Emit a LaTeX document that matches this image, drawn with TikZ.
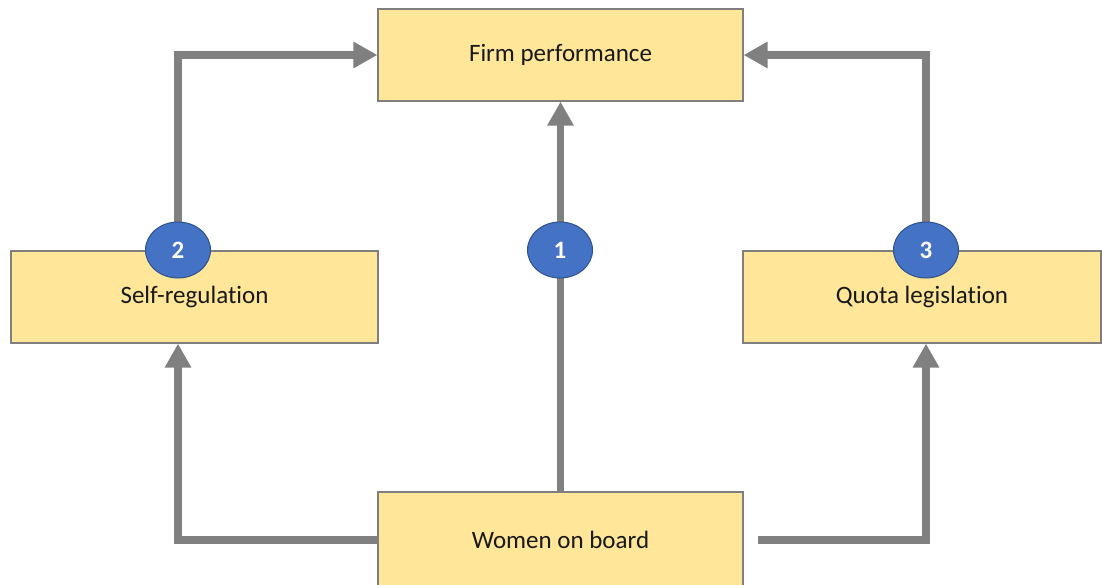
\documentclass[tikz,border=0pt]{standalone}
\usepackage{fontspec}
\setmainfont[Ligatures=NoCommon]{Carlito}
\usetikzlibrary{arrows.meta,shapes.geometric}
\pgfdeclarelayer{bg}
\pgfsetlayers{bg,main}
\definecolor{boxfill}{HTML}{FFE699}
\definecolor{boxline}{HTML}{7F7F7F}
\definecolor{arrowgray}{HTML}{808080}
\definecolor{circfill}{HTML}{4472C4}
\definecolor{circline}{HTML}{2F528F}
\tikzset{
  box/.style={draw=boxline, line width=1.2pt, fill=boxfill, minimum height=92pt,
    inner sep=0pt, font=\fontsize{25}{28}\selectfont, text=black!90},
  badge/.style={ellipse, draw=circline, line width=1pt, fill=circfill, minimum width=65pt,
    minimum height=56pt, inner sep=0pt, text=white, font=\fontsize{25}{28}\selectfont\bfseries},
  flow/.style={draw=arrowgray, line width=7.5pt, -{Triangle[length=24pt,width=25pt]}}
}
\begin{document}
\begin{tikzpicture}[x=1pt,y=-1pt]
\useasboundingbox (0,0) rectangle (1102,584);
\node[box, minimum width=365pt] (f) at (560.5,55) {Firm performance};
\node[box, minimum width=367pt] (s) at (194.5,297) {Self-regulation};
\node[box, minimum width=358pt] (q) at (922,297) {Quota legislation};
\node[box, minimum width=365pt, minimum height=96pt] (w) at (560.5,540) {Women on board};
\node[badge] (c1) at (560,250) {1};
\node[badge] (c2) at (178,250) {2};
\node[badge] (c3) at (926,250) {3};
\begin{pgfonlayer}{bg}
\fill[white] (0,0) rectangle (1102,584);
\draw[flow] (w.north) -- (f.south);
\draw[flow] (c2.north) |- (f.west);
\draw[flow] (c3.north) |- (f.east);
\draw[flow] (w.west) -| (c2 |- s.south);
\draw[flow] ([xshift=14pt]w.east) -| (c3 |- q.south);
\end{pgfonlayer}
\end{tikzpicture}
\end{document}
